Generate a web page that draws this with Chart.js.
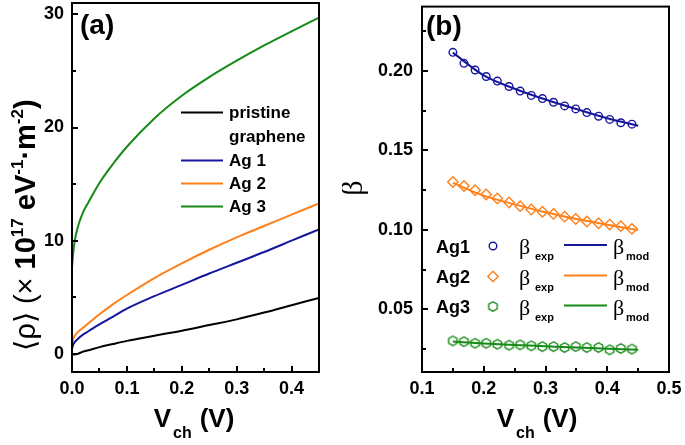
<!DOCTYPE html>
<html><head><meta charset="utf-8">
<script src="https://cdn.jsdelivr.net/npm/chart.js@4.4.1/dist/chart.umd.min.js"></script>
<style>
html,body{margin:0;padding:0;background:#fff;width:685px;height:445px;overflow:hidden}
#wa{position:absolute;left:0;top:0;width:342px;height:445px}
#wb{position:absolute;left:342px;top:0;width:343px;height:445px}
</style></head><body>
<div id="wa"><canvas id="ca"></canvas></div>
<div id="wb"><canvas id="cb"></canvas></div>
<script>
// ---------- Panel (a) data ----------
const aSeriesNames = ['pristine graphene', 'Ag 1', 'Ag 2', 'Ag 3'];
const aX        = [0, 0.002, 0.005, 0.01, 0.02, 0.03, 0.05, 0.075, 0.1, 0.15, 0.2, 0.25, 0.3, 0.35, 0.4, 0.45];
const aPristine = [0.0, -0.05, -0.05, 0.0, 0.2, 0.32, 0.6, 0.88, 1.15, 1.6, 2.05, 2.55, 3.05, 3.65, 4.3, 4.95];
const aAg1      = [0.45, 0.8, 1.05, 1.3, 1.7, 2.0, 2.6, 3.3, 4.0, 5.1, 6.1, 7.1, 8.05, 9.0, 10.0, 11.0];
const aAg2      = [0.9, 1.3, 1.6, 1.9, 2.3, 2.7, 3.5, 4.4, 5.2, 6.7, 8.0, 9.2, 10.3, 11.3, 12.3, 13.3];
const aAg3      = [7.6, 8.8, 10.0, 11.1, 12.5, 13.4, 15.1, 16.8, 18.3, 20.8, 22.8, 24.45, 25.9, 27.25, 28.5, 29.7];
const aXTicks = [0, 0.1, 0.2, 0.3, 0.4];
const aXMinor = [0.05, 0.15, 0.25, 0.35];
const aYTicks = [0, 10, 20, 30];
const aYMinor = [5, 15, 25];

// ---------- Panel (b) data ----------
const bSeriesNames = ['Ag1', 'Ag2', 'Ag3'];
const bX     = [0.150, 0.168, 0.186, 0.204, 0.222, 0.241, 0.259, 0.277, 0.295, 0.313, 0.331, 0.349, 0.367, 0.386, 0.404, 0.422, 0.440];
const bAg1Exp = [0.2117, 0.2048, 0.2006, 0.1965, 0.1936, 0.1902, 0.1873, 0.1846, 0.1826, 0.1803, 0.1780, 0.1761, 0.1738, 0.1715, 0.1695, 0.1674, 0.1665];
const bAg2Exp = [0.1301, 0.1276, 0.1249, 0.1222, 0.1197, 0.1172, 0.1149, 0.1128, 0.1114, 0.1100, 0.1083, 0.1068, 0.1052, 0.1041, 0.1033, 0.1023, 0.1006];
const bAg3Exp = [0.0301, 0.0296, 0.0286, 0.0286, 0.0280, 0.0274, 0.0276, 0.0270, 0.0265, 0.0265, 0.0259, 0.0265, 0.0259, 0.0259, 0.0245, 0.0253, 0.0249];
const bModX   = [0.15, 0.2, 0.25, 0.3, 0.35, 0.4, 0.45];
const bAg1Mod = [0.2115, 0.1972, 0.1888, 0.1820, 0.1760, 0.1702, 0.1655];
const bAg2Mod = [0.1295, 0.1215, 0.1160, 0.1110, 0.1068, 0.1032, 0.0998];
const bAg3Mod = [0.0297, 0.0285, 0.0275, 0.0267, 0.0259, 0.0252, 0.0245];
const bXTicks = [0.1, 0.2, 0.3, 0.4, 0.5];
const bXMinor = [0.15, 0.25, 0.35, 0.45];
const bYTicks = [0.05, 0.10, 0.15, 0.20];
const bYMinor = [0.025, 0.075, 0.125, 0.175, 0.225];

// ---------- styles ----------
const C_BLACK = '#000000', C_BLUE = '#16169c', C_ORANGE = '#ff8019', C_GREEN = '#168a16';
const FONT = "'Liberation Sans', Arial, Helvetica, sans-serif";
const SERIF = "'Liberation Serif', 'Times New Roman', serif";

function pts(xs, ys) { return xs.map((x, i) => ({ x: x, y: ys[i] })); }

function hexagon(color) {
  const c = document.createElement('canvas');
  c.width = 13; c.height = 13;
  const g = c.getContext('2d');
  g.strokeStyle = color; g.lineWidth = 1.4;
  g.beginPath();
  for (let k = 0; k < 6; k++) {
    const a = Math.PI / 2 + k * Math.PI / 3;
    const px = 6.5 + 4.8 * Math.cos(a), py = 6.5 + 4.8 * Math.sin(a);
    if (k === 0) g.moveTo(px, py); else g.lineTo(px, py);
  }
  g.closePath(); g.stroke();
  return c;
}
const HEX = hexagon(C_GREEN);

function rich(ctx, segs, x, y, align) {
  let total = 0;
  segs.forEach(s => { ctx.font = s.f; s.w = ctx.measureText(s.t).width; total += s.w + (s.gap || 0); });
  let cx = align === 'center' ? x - total / 2 : x;
  segs.forEach(s => { ctx.font = s.f; ctx.fillText(s.t, cx, y + (s.dy || 0)); cx += s.w + (s.gap || 0); });
}

function tickCallbackFactory(dec) { return v => Number(v).toFixed(dec); }

function decor(id, cfg) {
  return {
    id: id,
    afterDraw(chart) {
      const ctx = chart.ctx, a = chart.chartArea, xs = chart.scales.x, ys = chart.scales.y;
      ctx.save();
      ctx.strokeStyle = '#000'; ctx.lineWidth = 2;
      ctx.strokeRect(a.left, a.top, a.right - a.left, a.bottom - a.top);
      ctx.beginPath();
      const tx = (v, len) => { const p = Math.round(xs.getPixelForValue(v)); ctx.moveTo(p, a.bottom); ctx.lineTo(p, a.bottom - len); };
      const ty = (v, len) => { const p = Math.round(ys.getPixelForValue(v)); ctx.moveTo(a.left, p); ctx.lineTo(a.left + len, p); };
      cfg.xMajor.forEach(v => tx(v, 6)); cfg.xMinor.forEach(v => tx(v, 4));
      cfg.yMajor.forEach(v => ty(v, 6)); cfg.yMinor.forEach(v => ty(v, 4));
      ctx.stroke();
      ctx.fillStyle = '#000';
      cfg.draw(ctx, chart);
      ctx.restore();
    }
  };
}

function xTitle(ctx, cx, baseline) {
  ctx.textBaseline = 'alphabetic';
  rich(ctx, [
    { t: 'V', f: 'bold 26px ' + FONT, gap: 2 },
    { t: 'ch', f: 'bold 16px ' + FONT, dy: 11, gap: 8 },
    { t: '(V)', f: 'bold 26px ' + FONT }
  ], cx, baseline, 'center');
}

function commonScale(min, max, ticksArr, dec, pad) {
  return {
    type: 'linear', min: min, max: max,
    afterBuildTicks: s => { s.ticks = ticksArr.map(v => ({ value: v })); },
    ticks: { color: '#000', font: { family: FONT, weight: 'bold', size: 18 }, padding: pad,
             callback: tickCallbackFactory(dec), autoSkip: false, maxRotation: 0 },
    grid: { display: false, drawTicks: false },
    border: { display: false }
  };
}

// ---------- Chart (a) ----------
const sxA = commonScale(0, 0.45, aXTicks, 1, 6);
sxA.afterFit = s => { s.height = 73; s.paddingLeft = 0; s.paddingRight = 0; };
const syA = commonScale(-1.6, 31, aYTicks, 0, 8);
syA.afterFit = s => { s.width = 72; s.paddingTop = 0; s.paddingBottom = 0; };

const lineDs = (label, xs, ys, color) => ({
  label: label, data: pts(xs, ys), showLine: true, borderColor: color, backgroundColor: color,
  borderWidth: 2, pointRadius: 0, cubicInterpolationMode: 'monotone'
});

new Chart(document.getElementById('ca'), {
  type: 'scatter',
  data: { datasets: [
    lineDs(aSeriesNames[0], aX, aPristine, C_BLACK),
    lineDs(aSeriesNames[1], aX, aAg1, C_BLUE),
    lineDs(aSeriesNames[2], aX, aAg2, C_ORANGE),
    lineDs(aSeriesNames[3], aX, aAg3, C_GREEN)
  ] },
  options: {
    responsive: true, maintainAspectRatio: false, animation: false, devicePixelRatio: 1,
    layout: { padding: { top: 3, right: 23, left: 0, bottom: 0 } },
    plugins: { legend: { display: false }, tooltip: { enabled: false } },
    scales: { x: sxA, y: syA }
  },
  plugins: [decor('decorA', {
    xMajor: aXTicks, xMinor: aXMinor, yMajor: aYTicks, yMinor: aYMinor,
    draw(ctx, chart) {
      ctx.textBaseline = 'alphabetic'; ctx.textAlign = 'left';
      ctx.font = 'bold 28px ' + FONT;
      ctx.fillText('(a)', 80, 34);
      const ds = chart.data.datasets;
      const rows = [112.5, 160.5, 183.5, 206.5];
      ctx.lineWidth = 2;
      ctx.font = 'bold 17px ' + FONT; ctx.textBaseline = 'middle';
      ds.forEach((d, i) => {
        ctx.strokeStyle = d.borderColor;
        ctx.beginPath(); ctx.moveTo(181, rows[i]); ctx.lineTo(223, rows[i]); ctx.stroke();
        const parts = d.label.split(' ');
        if (i === 0) { ctx.fillText(parts[0], 229, rows[i] + 1); ctx.fillText(parts[1], 229, rows[i] + 24.5); }
        else ctx.fillText(d.label, 229, rows[i] + 1);
      });
      xTitle(ctx, 194, 427);
      ctx.save();
      ctx.translate(35, 225); ctx.rotate(-Math.PI / 2);
      ctx.textBaseline = 'alphabetic';
      rich(ctx, [
        { t: '\u27E8\u03C1\u27E9 (\u00D7 ', f: '29px ' + FONT },
        { t: '10', f: 'bold 29px ' + FONT },
        { t: '17', f: 'bold 17px ' + FONT, dy: -12 },
        { t: ' eV', f: 'bold 29px ' + FONT },
        { t: '-1', f: 'bold 17px ' + FONT, dy: -12 },
        { t: '\u00B7m', f: 'bold 29px ' + FONT },
        { t: '-2', f: 'bold 17px ' + FONT, dy: -12 },
        { t: ')', f: 'bold 29px ' + FONT }
      ], 0, 0, 'center');
      ctx.restore();
    }
  })]
});

// ---------- Chart (b) ----------
const sxB = commonScale(0.1, 0.5, bXTicks, 1, 6);
sxB.afterFit = s => { s.height = 73; s.paddingLeft = 0; s.paddingRight = 0; };
const syB = commonScale(0.0105, 0.2405, bYTicks, 2, 9);
syB.afterFit = s => { s.width = 80; s.paddingTop = 0; s.paddingBottom = 0; };

const expDs = (label, ys, color, style, r) => ({
  label: label, data: pts(bX, ys), showLine: false, pointStyle: style, pointRadius: r,
  borderColor: color, backgroundColor: 'rgba(0,0,0,0)', pointBorderWidth: 1.4, borderWidth: 1.4
});
const modDs = (label, ys, color) => ({
  label: label, data: pts(bModX, ys), showLine: true, borderColor: color, backgroundColor: color,
  borderWidth: 2, pointRadius: 0, cubicInterpolationMode: 'monotone'
});

new Chart(document.getElementById('cb'), {
  type: 'scatter',
  data: { datasets: [
    expDs(bSeriesNames[0] + ' exp', bAg1Exp, C_BLUE, 'circle', 3.8),
    expDs(bSeriesNames[1] + ' exp', bAg2Exp, C_ORANGE, 'rectRot', 5.2),
    expDs(bSeriesNames[2] + ' exp', bAg3Exp, C_GREEN, HEX, 4.8),
    modDs(bSeriesNames[0] + ' mod', bAg1Mod, C_BLUE),
    modDs(bSeriesNames[1] + ' mod', bAg2Mod, C_ORANGE),
    modDs(bSeriesNames[2] + ' mod', bAg3Mod, C_GREEN)
  ] },
  options: {
    responsive: true, maintainAspectRatio: false, animation: false, devicePixelRatio: 1,
    layout: { padding: { top: 3, right: 16, left: 0, bottom: 0 } },
    plugins: { legend: { display: false }, tooltip: { enabled: false } },
    scales: { x: sxB, y: syB }
  },
  plugins: [decor('decorB', {
    xMajor: bXTicks, xMinor: bXMinor, yMajor: bYTicks, yMinor: bYMinor,
    draw(ctx, chart) {
      ctx.textBaseline = 'alphabetic'; ctx.textAlign = 'left';
      ctx.font = 'bold 28px ' + FONT;
      ctx.fillText('(b)', 84, 35);
      const rows = [247, 277.5, 307.5];
      const colors = [C_BLUE, C_ORANGE, C_GREEN];
      const styles = ['circle', 'rectRot', HEX];
      const radii = [3.8, 5.2, 4.8];
      rows.forEach((yy, i) => {
        ctx.fillStyle = '#000';
        ctx.textBaseline = 'middle';
        ctx.font = 'bold 18px ' + FONT;
        ctx.fillText(bSeriesNames[i], 94, yy + 1);
        ctx.strokeStyle = colors[i]; ctx.lineWidth = 1.4;
        ctx.fillStyle = 'rgba(0,0,0,0)';
        Chart.helpers.drawPoint(ctx, { pointStyle: styles[i], radius: radii[i], borderWidth: 1.4 }, 151, yy - 1);
        ctx.textBaseline = 'alphabetic';
        ctx.fillStyle = '#000';
        ctx.font = '22px ' + SERIF; ctx.fillText('\u03B2', 177, yy + 7);
        ctx.font = 'bold 11px ' + FONT; ctx.fillText('exp', 193, yy + 13);
        ctx.strokeStyle = colors[i]; ctx.lineWidth = 2;
        ctx.beginPath(); ctx.moveTo(222, yy - 2); ctx.lineTo(265, yy - 2); ctx.stroke();
        ctx.font = '22px ' + SERIF; ctx.fillText('\u03B2', 271, yy + 7);
        ctx.font = 'bold 11px ' + FONT; ctx.fillText('mod', 284, yy + 13);
      });
      ctx.fillStyle = '#000';
      xTitle(ctx, 195, 427);
      ctx.save();
      ctx.translate(20, 188); ctx.rotate(-Math.PI / 2);
      ctx.textAlign = 'center'; ctx.textBaseline = 'alphabetic';
      ctx.font = '30px ' + SERIF;
      ctx.fillText('\u03B2', 0, 0);
      ctx.restore();
    }
  })]
});
</script>
</body></html>
